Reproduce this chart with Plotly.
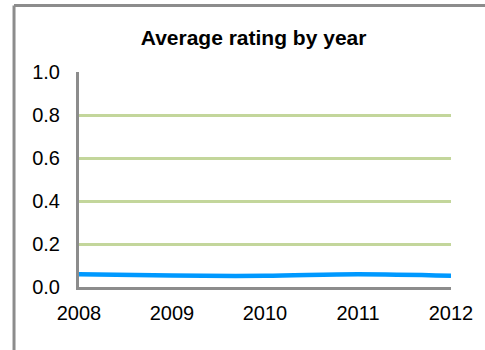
import plotly.graph_objects as go

years = [2008, 2009, 2010, 2011, 2012]
avg_rating = [0.059, 0.053, 0.052, 0.059, 0.052]
y_ticks = [0.0, 0.2, 0.4, 0.6, 0.8, 1.0]
y_tick_labels = ["0.0", "0.2", "0.4", "0.6", "0.8", "1.0"]

W, H = 485, 350
L, R, T, B = 79, 31, 72, 63
pw, ph = W - L - R, H - T - B

def px(x):
    return (x - L) / pw

def py(y):
    return (H - B - y) / ph

fig = go.Figure()
fig.add_trace(go.Scatter(
    x=years, y=avg_rating, mode="lines",
    line=dict(color="#0099ff", width=4.5, shape="spline"),
    cliponaxis=False, showlegend=False,
))

border = dict(color="#8c8c8c", width=3)
fig.update_layout(
    width=W, height=H,
    margin=dict(l=L, r=R, t=T, b=B),
    paper_bgcolor="white", plot_bgcolor="white",
    font=dict(family="Liberation Sans, Arial, sans-serif", size=20, color="black"),
    title=dict(text="<b>Average rating by year</b>", x=px(255), xref="paper",
               xanchor="center", y=1 - 38 / H, yanchor="middle",
               font=dict(size=21, color="black")),
    xaxis=dict(range=[2008, 2012], tickvals=years, ticktext=[str(y) for y in years],
               showgrid=False, zeroline=False, showline=True, linecolor="#8c8c8c",
               linewidth=3, ticks="outside", ticklen=6, tickcolor="rgba(0,0,0,0)"),
    yaxis=dict(range=[0, 1], tickvals=y_ticks, ticktext=y_tick_labels,
               showgrid=True, gridcolor="#c3d69b", gridwidth=3, zeroline=False,
               showline=True, linecolor="#8c8c8c", linewidth=3,
               ticks="outside", ticklen=12, tickcolor="rgba(0,0,0,0)"),
    shapes=[
        dict(type="line", xref="paper", yref="paper",
             x0=px(13.5), x1=px(490), y0=py(5.5), y1=py(5.5), line=border),
        dict(type="line", xref="paper", yref="paper",
             x0=px(13.5), x1=px(13.5), y0=py(5.5), y1=py(360), line=border),
    ],
)

fig.write_html("out.html", config={"displayModeBar": False},
               post_script="document.body.style.margin='0';")
